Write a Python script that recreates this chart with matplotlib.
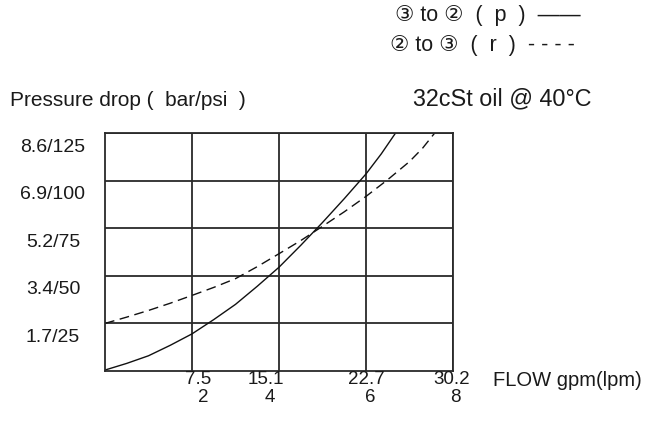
import matplotlib
matplotlib.use("Agg")
import matplotlib.pyplot as plt
from matplotlib.transforms import ScaledTranslation

plt.rcParams['font.family'] = ['Liberation Sans', 'DejaVu Sans']

# data (x in gpm, y in psi)
p_x = [0, 0.5, 1, 1.5, 2, 2.5, 3, 3.5, 4, 4.5, 5, 5.5, 6, 6.35, 6.68]
p_y = [0.5, 4, 8, 13.5, 19.5, 27, 35, 44.5, 54.5, 66, 78, 90.5, 103.5, 114, 125]
r_x = [0, 0.5, 1, 1.5, 2, 2.5, 3, 3.5, 4, 4.5, 5, 5.5, 6, 6.5, 7, 7.3, 7.58]
r_y = [25, 28.3, 31.8, 35.6, 39.7, 43.9, 48.5, 54.8, 61.6, 68.5, 76, 83.6, 91.7, 100.5, 110, 117, 125]

x_ticks = [2, 4, 6, 8]
x_lpm = ['7.5', '15.1', '22.7', '30.2']
x_gpm = ['2', '4', '6', '8']
y_ticks = [25, 50, 75, 100, 125]
y_labels = ['1.7/25', '3.4/50', '5.2/75', '6.9/100', '8.6/125']

# label pixel nudges (presentation only)
lpm_dx = [6, -13, 0, -1]
gpm_dx = [11, -9, 4, 2]

fig = plt.figure(figsize=(6.54, 4.34), dpi=100)
ax = fig.add_axes([105/654, 1-371/434, 348/654, 238/434])
ax.set_xlim(0, 8)
ax.set_ylim(0, 125)
ax.set_xticks(x_ticks)
ax.set_yticks(y_ticks)
ax.set_xticklabels([])
ax.set_yticklabels([])
ax.tick_params(length=0)
ax.grid(True, color='#2a2a2a', linewidth=1.3)
for s in ax.spines.values():
    s.set_color('#2a2a2a')
    s.set_linewidth(1.3)

ax.plot(p_x, p_y, color='#111111', linewidth=1.0)
ax.plot(r_x, r_y, color='#111111', linewidth=1.0, dashes=(7, 4))

fs = 13.5
tc = '#1a1a1a'
for v, lab in zip(y_ticks, y_labels):
    tr = ax.get_yaxis_transform() + ScaledTranslation(0, -14/100, fig.dpi_scale_trans)
    ax.text(-52/348, v, lab, transform=tr, ha='center', va='center', fontsize=14, color=tc)

for v, a, b, d1, d2 in zip(x_ticks, x_lpm, x_gpm, lpm_dx, gpm_dx):
    tr1 = ax.get_xaxis_transform() + ScaledTranslation(d1/100, 0, fig.dpi_scale_trans)
    tr2 = ax.get_xaxis_transform() + ScaledTranslation(d2/100, 0, fig.dpi_scale_trans)
    ax.text(v, (371-380)/238, a, transform=tr1, ha='center', va='center', fontsize=fs, color=tc)
    ax.text(v, (371-398)/238, b, transform=tr2, ha='center', va='center', fontsize=fs, color=tc)

fig.text(493/654, 1-380/434, 'FLOW gpm(lpm)', ha='left', va='center', fontsize=14.5, color=tc)
fig.text(10/654, 1-100/434, 'Pressure drop (  bar/psi  )', ha='left', va='center', fontsize=15, color=tc)
fig.text(413/654, 1-99/434, '32cSt oil @ 40°C', ha='left', va='center', fontsize=16.8, color=tc)
fig.text(395/654, 1-16/434, '③ to ②  (  p  )  ——', ha='left', va='center', fontsize=15.5, color=tc)
fig.text(390/654, 1-45/434, '② to ③  (  r  )  - - - -', ha='left', va='center', fontsize=15.5, color=tc)

fig.savefig('out.png', dpi=100)
